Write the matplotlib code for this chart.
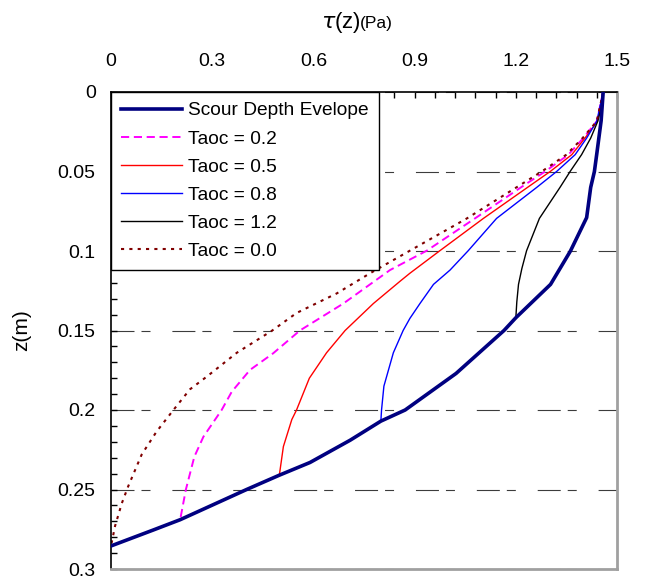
#!/usr/bin/env python3

import matplotlib

matplotlib.use("Agg")
import matplotlib.pyplot as plt
from matplotlib.ticker import FixedLocator, MultipleLocator

plt.rcParams["font.family"] = ["Liberation Sans", "DejaVu Sans"]

X_TICKS = [0, 0.3, 0.6, 0.9, 1.2, 1.5]
X_TICK_LABELS = ["0", "0.3", "0.6", "0.9", "1.2", "1.5"]
Y_TICKS = [0, 0.05, 0.1, 0.15, 0.2, 0.25, 0.3]
Y_TICK_LABELS = ["0", "0.05", "0.1", "0.15", "0.2", "0.25", "0.3"]

# scour depth envelope
env_z = [0.0, 0.018, 0.039, 0.05, 0.06, 0.079, 0.1, 0.121, 0.142, 0.15, 0.177,
         0.2, 0.207, 0.219, 0.233, 0.241, 0.25, 0.269, 0.2755, 0.2855]
env_tau = [1.459, 1.453, 1.44, 1.433, 1.422, 1.41, 1.362, 1.303, 1.2, 1.165,
           1.023, 0.872, 0.80, 0.709, 0.59, 0.499, 0.402, 0.205, 0.125, 0.0]

# Taoc = 0.2
t02_z = [0.0, 0.0184, 0.029, 0.0394, 0.05, 0.0583, 0.0795, 0.0998, 0.112, 0.133,
         0.15, 0.1643, 0.1748, 0.1885, 0.2, 0.2168, 0.2294, 0.25, 0.269]
t02_tau = [1.459, 1.44, 1.40, 1.356, 1.287, 1.227, 1.079, 0.936, 0.827, 0.689,
           0.56, 0.481, 0.412, 0.358, 0.328, 0.274, 0.247, 0.222, 0.205]

# Taoc = 0.5
t05_z = [0.0, 0.0184, 0.029, 0.0394, 0.05, 0.0604, 0.0795, 0.0998, 0.114, 0.119,
         0.133, 0.15, 0.164, 0.18, 0.2, 0.206, 0.223, 0.241]
t05_tau = [1.459, 1.442, 1.405, 1.366, 1.302, 1.232, 1.104, 0.975, 0.886, 0.857,
           0.778, 0.694, 0.639, 0.588, 0.55, 0.536, 0.511, 0.499]

# Taoc = 0.8
t08_z = [0.0, 0.0184, 0.029, 0.0394, 0.05, 0.06, 0.0795, 0.0998, 0.112, 0.121,
         0.133, 0.1424, 0.15, 0.164, 0.185, 0.2, 0.207]
t08_tau = [1.459, 1.44, 1.41, 1.376, 1.321, 1.262, 1.143, 1.059, 1.005, 0.956,
           0.916, 0.886, 0.866, 0.837, 0.809, 0.802, 0.80]

# Taoc = 1.2
t12_z = [0.0, 0.01, 0.0184, 0.029, 0.0394, 0.05, 0.06, 0.0795, 0.0998, 0.111,
         0.121, 0.132, 0.1424]
t12_tau = [1.459, 1.453, 1.443, 1.422, 1.395, 1.361, 1.331, 1.27, 1.232, 1.218,
           1.208, 1.203, 1.2]

# Taoc = 0.0
t00_z = [0.0, 0.0184, 0.029, 0.0394, 0.05, 0.0795, 0.0998, 0.114, 0.1267, 0.139,
         0.15, 0.164, 0.179, 0.187, 0.2, 0.2136, 0.228, 0.248, 0.2587, 0.273, 0.2855]
t00_tau = [1.459, 1.44, 1.398, 1.35, 1.277, 1.055, 0.886, 0.768, 0.669, 0.55,
           0.478, 0.373, 0.284, 0.234, 0.185, 0.135, 0.091, 0.051, 0.032, 0.012, 0.0]


def main():
    fig = plt.figure(figsize=(6.45, 5.78), dpi=100)
    ax = fig.add_axes([111 / 645, 9 / 578, 506 / 645, 477 / 578])

    handles = []
    handles += ax.plot(env_tau, env_z, color="#000080", lw=2.6,
                       label="Scour Depth Evelope", zorder=5)
    handles += ax.plot(t02_tau, t02_z, color="#ff00ff", lw=1.4,
                       ls=(0, (4.2, 2.4)), label="Taoc = 0.2")
    handles += ax.plot(t05_tau, t05_z, color="#ff0000", lw=1.0,
                       label="Taoc = 0.5")
    handles += ax.plot(t08_tau, t08_z, color="#0000ff", lw=1.0,
                       label="Taoc = 0.8")
    handles += ax.plot(t12_tau, t12_z, color="#000000", lw=1.0,
                       label="Taoc = 1.2")
    handles += ax.plot(t00_tau, t00_z, color="#800000", lw=1.5,
                       ls=(0, (1.5, 2.5)), label="Taoc = 0.0")

    ax.set_xlim(0, 1.5)
    ax.set_ylim(0.3, 0)

    ax.xaxis.tick_top()
    ax.xaxis.set_major_locator(FixedLocator(X_TICKS))
    ax.xaxis.set_minor_locator(MultipleLocator(0.06))
    ax.set_xticklabels(X_TICK_LABELS)
    ax.yaxis.set_major_locator(FixedLocator(Y_TICKS))
    ax.yaxis.set_minor_locator(MultipleLocator(0.01))
    ax.set_yticklabels(Y_TICK_LABELS)
    ax.tick_params(axis="x", which="both", direction="in", top=True, bottom=False,
                   length=4, width=1, labelsize=14, pad=16)
    ax.tick_params(axis="y", which="both", direction="in", left=True, right=False,
                   length=4, width=1, labelsize=14, pad=11)

    ax.grid(axis="y", color="#3c3c3c", lw=0.8,
            ls=(0, (20.7, 6.3, 8.1, 19.7)))
    for side in ("left", "top"):
        ax.spines[side].set_color("black")
        ax.spines[side].set_linewidth(1.2)
    for side in ("right", "bottom"):
        ax.spines[side].set_color("#a0a0a0")
        ax.spines[side].set_linewidth(2)

    leg = ax.legend(handles=handles, loc="upper left", bbox_to_anchor=(0, 1),
                    borderaxespad=0, fontsize=13.8, handlelength=3.2,
                    handletextpad=0.3, labelspacing=0.56, borderpad=0.52,
                    fancybox=False, framealpha=1, edgecolor="black")
    leg.get_frame().set_linewidth(1)

    fig.text(321 / 645, 1 - 28 / 578, r"$\tau$(z)", fontsize=16,
             ha="left", va="baseline")
    fig.text(360 / 645, 1 - 28 / 578, "(Pa)", fontsize=12.5,
             ha="left", va="baseline")
    fig.text(22 / 645, 1 - 330 / 578, "z(m)", fontsize=15, rotation=90,
             ha="center", va="center")

    fig.savefig("out.png", dpi=100)


if __name__ == "__main__":
    main()
